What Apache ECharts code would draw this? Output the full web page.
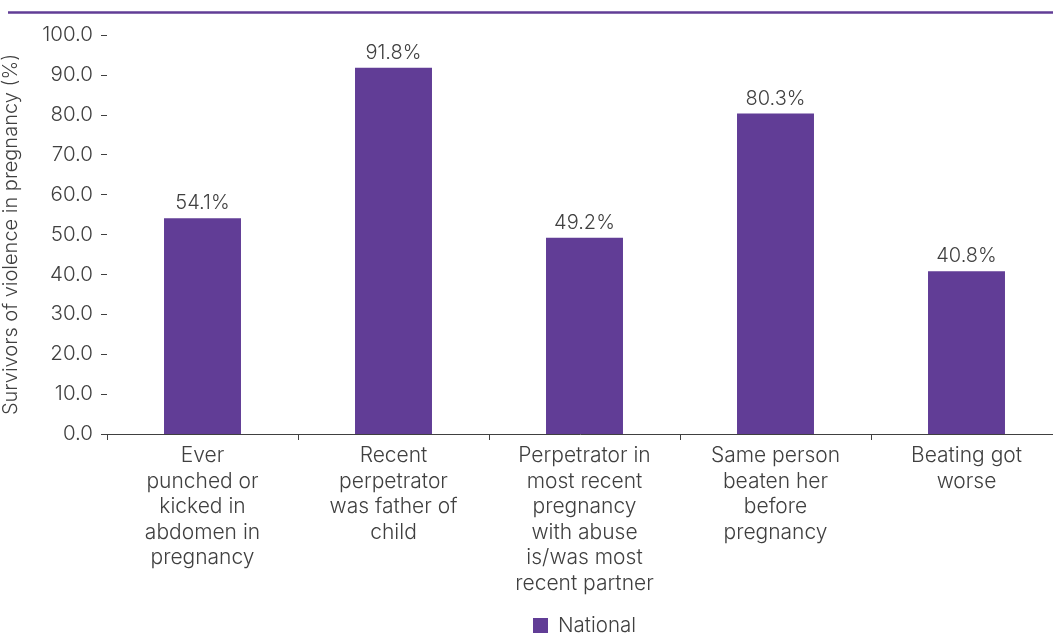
<!DOCTYPE html>
<html>
<head>
<meta charset="utf-8">
<script src="https://cdn.jsdelivr.net/npm/echarts@6/dist/echarts.min.js"></script>
<style>
html,body{margin:0;padding:0;background:#fff;}
#chart{width:1053px;height:644px;}
</style>
</head>
<body>
<div id="chart"></div>
<script>
// Circumstances reported by survivors of violence in pregnancy
const categories = [
  'Ever\npunched or\nkicked in\nabdomen in\npregnancy',
  'Recent\nperpetrator\nwas father of\nchild',
  'Perpetrator in\nmost recent\npregnancy\nwith abuse\nis/was most\nrecent partner',
  'Same person\nbeaten her\nbefore\npregnancy',
  'Beating got\nworse'
];
const nationalValues = [54.1, 91.8, 49.2, 80.3, 40.8];
const seriesName = 'National';
const yAxisTitle = 'Survivors of violence in pregnancy (%)';

const purple = '#613d96';
const textColor = '#404040';
const fontFamily = 'Inter, "Open Sans", sans-serif';

const chart = echarts.init(document.getElementById('chart'));
chart.setOption({
  animation: false,
  textStyle: { fontFamily: fontFamily, color: textColor },
  graphic: [{
    type: 'line',
    shape: { x1: 8, y1: 12.5, x2: 1053, y2: 12.5 },
    style: { stroke: purple, lineWidth: 2.5 }
  }],
  // the plot runs slightly past the right edge of the canvas
  grid: { left: 107, right: -9, top: 35, bottom: 210, outerBoundsMode: 'none', containLabel: false },
  legend: {
    bottom: 3,
    left: 528,
    itemWidth: 15,
    itemHeight: 15,
    icon: 'rect',
    itemGap: 10,
    textStyle: { fontSize: 20.5, color: textColor, fontFamily: fontFamily, fontWeight: 300, padding: [0, 0, 0, 5] },
    data: [seriesName]
  },
  xAxis: {
    type: 'category',
    data: categories,
    axisLine: { lineStyle: { color: textColor, width: 1 } },
    axisTick: { show: true, length: 6, lineStyle: { color: textColor } },
    axisLabel: {
      interval: 0,
      margin: 9,
      fontSize: 21,
      lineHeight: 25.5,
      color: textColor,
      fontFamily: fontFamily,
      fontWeight: 300,
      align: 'center'
    }
  },
  yAxis: {
    type: 'value',
    min: 0,
    max: 100,
    interval: 10,
    name: yAxisTitle,
    nameLocation: 'middle',
    nameGap: 86,
    nameTextStyle: { fontSize: 20, color: textColor, fontFamily: fontFamily, fontWeight: 300 },
    axisLine: { show: false },
    axisTick: { show: true, length: 6, lineStyle: { color: textColor } },
    splitLine: { show: false },
    axisLabel: {
      margin: 14,
      fontSize: 20.5,
      color: textColor,
      fontFamily: fontFamily,
      fontWeight: 300,
      formatter: v => v.toFixed(1)
    }
  },
  series: [{
    name: seriesName,
    type: 'bar',
    data: nationalValues,
    barWidth: '40.3%',
    itemStyle: { color: purple },
    label: {
      show: true,
      position: 'top',
      distance: 5,
      fontSize: 20,
      color: textColor,
      fontFamily: fontFamily,
      fontWeight: 300,
      formatter: p => p.value.toFixed(1) + '%'
    }
  }]
});
</script>
</body>
</html>
